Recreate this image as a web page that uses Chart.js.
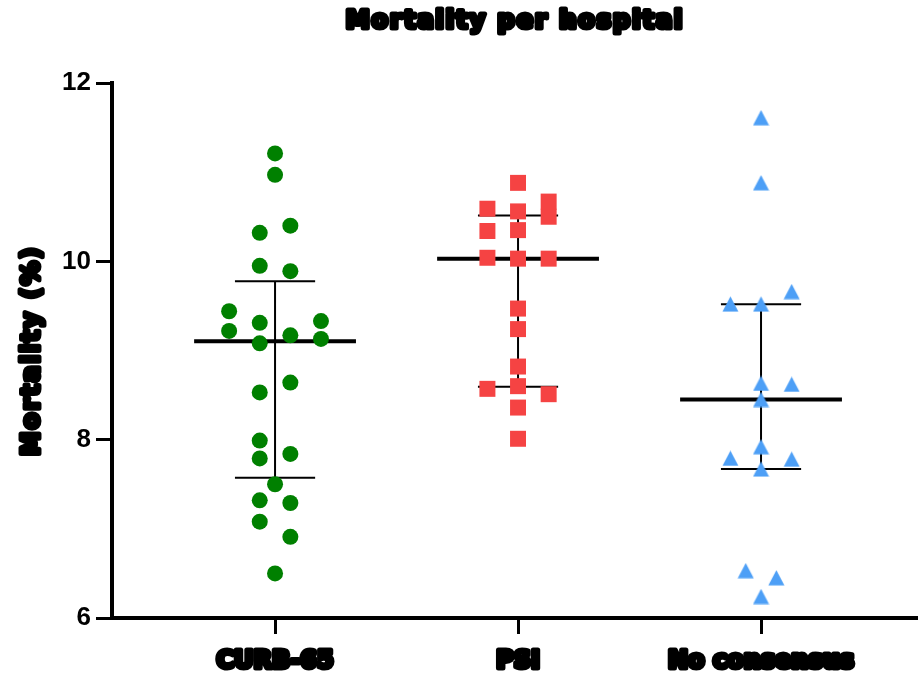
<!DOCTYPE html>
<html>
<head>
<meta charset="utf-8">
<script src="https://cdn.jsdelivr.net/npm/chart.js@4.4.0/dist/chart.umd.min.js"></script>
<style>
  html, body { margin: 0; padding: 0; background: #fff; }
</style>
</head>
<body>
<canvas id="myChart" width="918" height="682"></canvas>
<script>
// categories and tick labels
var categories = ['CURB-65', 'PSI', 'No consensus'];
var yTickValues = [6, 8, 10, 12];
var chartTitle = 'Mortality per hospital';
var yTitle = 'Mortality (%)';

// mortality (%) per hospital
var curbValues = [11.21, 10.97, 10.32, 10.40, 9.95, 9.89, 9.44, 9.31, 9.33, 9.22, 9.17, 9.13, 9.08,
                  8.64, 8.53, 7.99, 7.79, 7.84, 7.50, 7.32, 7.29, 7.08, 6.91, 6.50];
var psiValues = [10.88, 10.59, 10.56, 10.67, 10.50, 10.34, 10.35, 10.04, 10.03, 10.03, 9.47, 9.24,
                 8.82, 8.57, 8.60, 8.51, 8.36, 8.01];
var noConsValues = [11.61, 10.88, 9.66, 9.52, 9.52, 8.63, 8.62, 8.45, 7.92, 7.79, 7.78, 7.67,
                    6.53, 6.45, 6.24];

// horizontal slot of each point inside its column (scatter spreading)
var curbSlots = [0, 0, -1, 1, -1, 1, -3, -1, 3, -3, 1, 3, -1, 1, -1, -1, -1, 1, 0, -1, 1, -1, 1, 0];
var psiSlots = [0, -2, 0, 2, 2, -2, 0, -2, 0, 2, 0, 0, 0, -2, 0, 2, 0, 0];
var noConsSlots = [0, 0, 2, -2, 0, 0, 2, 0, 0, -2, 2, 0, -1, 1, 0];

var slotWidth = 0.063;
var medianHalf = 0.333;
var capHalf = 0.165;

function quantile(arr, p) {
  var s = arr.slice().sort(function (a, b) { return a - b; });
  var pos = p * (s.length + 1) - 1;
  var lo = Math.max(0, Math.min(s.length - 1, Math.floor(pos)));
  var hi = Math.max(0, Math.min(s.length - 1, Math.ceil(pos)));
  return s[lo] + (pos - Math.floor(pos)) * (s[hi] - s[lo]);
}

function toPoints(values, slots, idx) {
  return values.map(function (v, i) {
    return { x: idx + 1 + slots[i] * slotWidth, y: v };
  });
}

var groups = [curbValues, psiValues, noConsValues];
var medianData = [];
var iqrData = [];
groups.forEach(function (vals, i) {
  var c = i + 1;
  var med = quantile(vals, 0.5), q1 = quantile(vals, 0.25), q3 = quantile(vals, 0.75);
  medianData.push({ x: c - medianHalf, y: med }, { x: c + medianHalf, y: med }, { x: c, y: null });
  iqrData.push({ x: c, y: q1 }, { x: c, y: q3 }, { x: c, y: null });
  iqrData.push({ x: c - capHalf, y: q3 }, { x: c + capHalf, y: q3 }, { x: c, y: null });
  iqrData.push({ x: c - capHalf, y: q1 }, { x: c + capHalf, y: q1 }, { x: c, y: null });
});

// triangle marker centred on its box
var tri = document.createElement('canvas');
tri.width = 17; tri.height = 16;
var tctx = tri.getContext('2d');
tctx.fillStyle = '#4D9FF6';
tctx.beginPath();
tctx.moveTo(0.5, 15.5); tctx.lineTo(8.5, 0.3); tctx.lineTo(16.5, 15.5);
tctx.closePath();
tctx.fill();

var heavyText = {
  id: 'heavyText',
  beforeDraw: function (chart) {
    chart.ctx.lineJoin = 'round';
  },
  afterDraw: function (chart) {
    var ctx = chart.ctx, a = chart.chartArea;
    ctx.save();
    ctx.font = 'bold 24px "DejaVu Sans"';
    ctx.fillStyle = '#000';
    ctx.strokeStyle = '#000';
    ctx.lineWidth = 5;
    ctx.lineJoin = 'round';
    ctx.textAlign = 'center';
    ctx.textBaseline = 'middle';
    ctx.letterSpacing = '2px';
    ctx.strokeText(chartTitle, (a.left + a.right) / 2, 22);
    ctx.fillText(chartTitle, (a.left + a.right) / 2, 22);
    ctx.letterSpacing = '2.5px';
    ctx.translate(33, (a.top + a.bottom) / 2);
    ctx.rotate(-Math.PI / 2);
    ctx.strokeText(yTitle, 0, 0);
    ctx.fillText(yTitle, 0, 0);
    ctx.restore();
  }
};

var ctx = document.getElementById('myChart').getContext('2d');
var chart = new Chart(ctx, {
  type: 'scatter',
  data: {
    datasets: [
      {
        label: categories[0],
        data: toPoints(curbValues, curbSlots, 0),
        pointStyle: 'circle',
        pointRadius: 8,
        backgroundColor: 'rgb(0, 128, 0)',
        borderWidth: 0
      },
      {
        label: categories[1],
        data: toPoints(psiValues, psiSlots, 1),
        pointStyle: 'rect',
        pointRadius: 11.3,
        backgroundColor: '#F54343',
        borderWidth: 0
      },
      {
        label: categories[2],
        data: toPoints(noConsValues, noConsSlots, 2),
        pointStyle: tri,
        pointRadius: 8,
        backgroundColor: '#4D9FF6',
        borderWidth: 0
      },
      {
        type: 'line',
        label: 'median',
        data: medianData,
        borderColor: '#000',
        borderWidth: 4,
        pointRadius: 0,
        spanGaps: false
      },
      {
        type: 'line',
        label: 'IQR',
        data: iqrData,
        borderColor: '#000',
        borderWidth: 2,
        pointRadius: 0,
        spanGaps: false
      }
    ]
  },
  options: {
    responsive: false,
    devicePixelRatio: 1,
    animation: false,
    layout: { autoPadding: false, padding: { top: 83, left: 0, right: 0, bottom: 0 } },
    plugins: {
      legend: { display: false },
      tooltip: { enabled: false },
      title: { display: false }
    },
    scales: {
      x: {
        type: 'linear',
        min: 0.329,
        max: 3.646,
        afterBuildTicks: function (scale) {
          scale.ticks = categories.map(function (c, i) { return { value: i + 1 }; });
        },
        afterFit: function (scale) {
          scale.height = 64;
          scale.paddingLeft = 0;
          scale.paddingRight = 0;
        },
        ticks: {
          autoSkip: false,
          maxRotation: 0,
          padding: 13,
          color: '#000',
          font: { family: 'DejaVu Sans', size: 24, weight: 'bold' },
          textStrokeColor: '#000',
          textStrokeWidth: 5,
          callback: function (v) { return categories[v - 1]; }
        },
        grid: {
          drawOnChartArea: false,
          drawTicks: true,
          tickLength: 16,
          tickWidth: 3,
          tickColor: '#000'
        },
        border: { display: true, width: 4, color: '#000' }
      },
      y: {
        min: 6,
        max: 12,
        afterBuildTicks: function (scale) {
          scale.ticks = yTickValues.map(function (v) { return { value: v }; });
        },
        afterFit: function (scale) { scale.width = 112; },
        ticks: {
          padding: 5,
          color: '#000',
          font: { family: 'Liberation Sans', size: 26, weight: 'bold' }
        },
        grid: {
          drawOnChartArea: false,
          drawTicks: true,
          tickLength: 16,
          tickWidth: 3,
          tickColor: '#000'
        },
        border: { display: true, width: 4, color: '#000' }
      }
    }
  },
  plugins: [heavyText]
});
</script>
</body>
</html>
